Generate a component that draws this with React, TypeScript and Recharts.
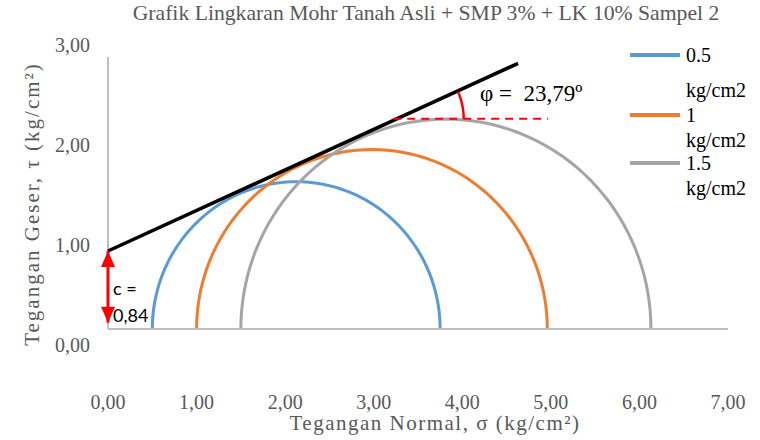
import { LineChart, Line, XAxis, YAxis } from "recharts"

// Mohr circle data: confining (sigma3) and major principal (sigma1) stresses
const sigma3 = [0.5, 1.0, 1.5]
const sigma1 = [3.75, 4.96, 6.13]
const seriesNames = ["0.5", "1", "1.5"]
const seriesUnit = "kg/cm2"
const COLORS = ["#5B9BD5", "#ED7D31", "#A5A5A5"]

// failure envelope
const envelopeX = [0, 4.63]
const envelopeY = [0.86, 2.93]
const cohesionLabel = "0,84"
const phiLabel = "23,79º"
const phiDeg = 23.79

// horizontal reference (top of last circle) and cohesion arrow
const refLineX = [3.22, 4.97]
const refLineY = 2.32
const arrowY = [0.07, 0.86]

const xTicks = [0, 1, 2, 3, 4, 5, 6, 7]
const yTicks = [0, 1, 2, 3]
const yMax = 3

const STEPS = 72
const circles = sigma3.map((s3, i) => {
  const c = (s3 + sigma1[i]) / 2
  const r = (sigma1[i] - s3) / 2
  return Array.from({ length: STEPS + 1 }, (_, k) => {
    const a = Math.PI - (Math.PI * k) / STEPS
    return { x: c + r * Math.cos(a), y: r * Math.sin(a) }
  })
})

const envelope = envelopeX.map((x, i) => ({ x, y: envelopeY[i] }))
const refLine = refLineX.map((x) => ({ x, y: refLineY }))
const arrow = arrowY.map((y) => ({ x: 0, y }))
const yAxisLine = [{ x: 0, y: 0 }, { x: 0, y: yMax }]

// small arc marking phi, centred where envelope crosses the reference line
const slope = (envelopeY[1] - envelopeY[0]) / (envelopeX[1] - envelopeX[0])
const arcCx = (refLineY - envelopeY[0]) / slope
const arcR = 0.75
const arc = Array.from({ length: 13 }, (_, k) => {
  const a = ((phiDeg * Math.PI) / 180) * (k / 12)
  return { x: arcCx + arcR * Math.cos(a), y: refLineY + arcR * Math.sin(a) * 0.98 }
})

const fmt = (v: number) => v.toFixed(2).replace(".", ",")
const SERIF = "'Liberation Serif', 'Times New Roman', serif"
const GREY = "#595959"

const ArrowDot = (props: any) => {
  const { cx, cy, index } = props
  if (cx == null || cy == null) return null
  const h = 16
  const w = 7
  const d = index === 0
    ? `M${cx},${cy} L${cx - w},${cy - h} L${cx + w},${cy - h} Z`
    : `M${cx},${cy} L${cx - w},${cy + h} L${cx + w},${cy + h} Z`
  return <path key={index} d={d} fill="#FF0000" />
}

export default function App() {
  return (
    <div style={{ position: "absolute", left: 0, top: 0, width: 760, height: 440, background: "#fff", fontFamily: SERIF }}>
      <div style={{ position: "absolute", left: 0, top: 1, width: 852, textAlign: "center", fontSize: 21.7, color: GREY, whiteSpace: "nowrap" }}>
        Grafik Lingkaran Mohr Tanah Asli + SMP 3% + LK 10% Sampel 2
      </div>

      <LineChart width={760} height={440} margin={{ top: 57, right: 32, left: 48, bottom: 71 }}>
        <XAxis
          type="number"
          dataKey="x"
          domain={[0, 7]}
          ticks={xTicks}
          interval={0}
          tickFormatter={fmt}
          tickSize={0}
          tickMargin={66}
          tickLine={false}
          axisLine={{ stroke: "#BFBFBF", strokeWidth: 2 }}
          tick={{ fill: GREY, fontSize: 20, fontFamily: SERIF }}
          height={40}
        />
        <YAxis yAxisId="main" type="number" dataKey="y" domain={[0, yMax]} hide />
        <YAxis
          yAxisId="lbl"
          type="number"
          domain={[0.16, 2.88]}
          ticks={yTicks}
          interval={0}
          allowDataOverflow
          tickFormatter={fmt}
          tickSize={0}
          tickMargin={18}
          tickLine={false}
          axisLine={false}
          tick={{ fill: GREY, fontSize: 20, fontFamily: SERIF }}
          width={60}
        />
        <Line yAxisId="main" data={yAxisLine} dataKey="y" stroke="#BFBFBF" strokeWidth={2} dot={false} isAnimationActive={false} />
        {circles.map((pts, i) => (
          <Line
            key={seriesNames[i]}
            yAxisId="main"
            data={pts}
            dataKey="y"
            type="linear"
            stroke={COLORS[i]}
            strokeWidth={3}
            dot={false}
            isAnimationActive={false}
          />
        ))}
        <Line yAxisId="main" data={envelope} dataKey="y" stroke="#000" strokeWidth={3.5} dot={false} isAnimationActive={false} />
        <Line yAxisId="main" data={refLine} dataKey="y" stroke="#FF0000" strokeWidth={2} strokeDasharray="8 6" dot={false} isAnimationActive={false} />
        <Line yAxisId="main" data={arc} dataKey="y" type="monotone" stroke="#FF0000" strokeWidth={2.5} dot={false} isAnimationActive={false} />
        <Line yAxisId="main" data={arrow} dataKey="y" stroke="#FF0000" strokeWidth={3} dot={ArrowDot} isAnimationActive={false} />
      </LineChart>

      <div style={{ position: "absolute", left: 480, top: 81, fontSize: 23, color: "#000", whiteSpace: "pre" }}>
        {"φ =  " + phiLabel}
      </div>
      <div style={{ position: "absolute", left: 113, top: 275, fontSize: 18, lineHeight: "27px", color: "#000", fontFamily: "Lato, 'Open Sans', sans-serif" }}>
        c =<br />
        {cohesionLabel}
      </div>

      {seriesNames.map((name, i) => {
        const tops = [55, 115, 163]
        const t = tops[i]
        return (
          <div key={name}>
            <div style={{ position: "absolute", left: 630, top: t - 2, width: 50, height: 4, background: COLORS[i] }} />
            <div style={{ position: "absolute", left: 686, top: t - 12, fontSize: 20, lineHeight: "24px", color: "#000" }}>{name}</div>
            <div style={{ position: "absolute", left: 686, top: t + (i === 0 ? 23 : 13), fontSize: 20, lineHeight: "24px", color: "#000" }}>{seriesUnit}</div>
          </div>
        )
      })}

      <div
        style={{
          position: "absolute",
          left: 32,
          top: 204,
          transform: "translate(-50%, -50%) rotate(-90deg)",
          whiteSpace: "nowrap",
          fontSize: 21,
          letterSpacing: 2,
          color: GREY,
        }}
      >
        Tegangan Geser, τ (kg/cm²)
      </div>
      <div style={{ position: "absolute", left: 0, top: 411, width: 870, textAlign: "center", fontSize: 21, letterSpacing: 1.5, color: GREY, whiteSpace: "nowrap" }}>
        Tegangan Normal, σ (kg/cm²)
      </div>
    </div>
  )
}
